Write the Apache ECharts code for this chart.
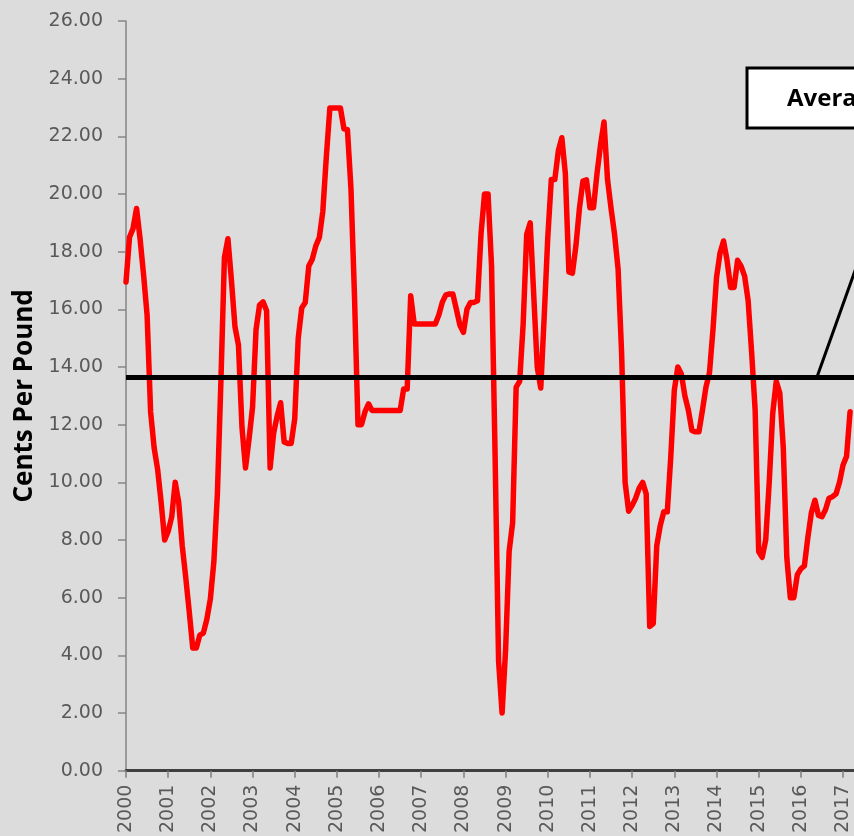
<!DOCTYPE html>
<html>
<head>
<meta charset="utf-8">
<script src="https://cdn.jsdelivr.net/npm/echarts@6/dist/echarts.min.js"></script>
<style>
html,body{margin:0;padding:0;background:#dcdcdc;}
#c{width:854px;height:836px;}
</style>
</head>
<body>
<div id="c"></div>
<script>
// Monthly price, cents per pound, starting January 2000
const startYear = 2000;
const monthlyPrice = [
  16.95, 18.5, 18.8, 19.5, 18.45, 17.2, 15.8, 12.45, 11.2, 10.45, 9.3, 8.0,
  8.3, 8.8, 10.0, 9.3, 7.8, 6.7, 5.5, 4.25, 4.25, 4.7, 4.77, 5.25,
  5.95, 7.25, 9.6, 13.5, 17.8, 18.45, 17.0, 15.4, 14.75, 11.9, 10.5, 11.5,
  12.6, 15.3, 16.15, 16.26, 15.95, 10.5, 11.7, 12.3, 12.76, 11.4, 11.35, 11.35,
  12.2, 15.0, 16.05, 16.24, 17.5, 17.74, 18.2, 18.49, 19.4, 21.3, 22.98, 22.98,
  22.98, 22.98, 22.26, 22.23, 20.2, 16.5, 12.0, 12.0, 12.45, 12.72, 12.49, 12.49,
  12.49, 12.49, 12.49, 12.49, 12.49, 12.49, 12.49, 13.24, 13.24, 16.47, 15.49, 15.49,
  15.49, 15.49, 15.49, 15.49, 15.49, 15.8, 16.25, 16.5, 16.53, 16.53, 16.0, 15.45,
  15.2, 16.0, 16.24, 16.24, 16.3, 18.6, 20.0, 20.0, 17.5, 11.0, 3.8, 2.0,
  4.2, 7.6, 8.6, 13.3, 13.5, 15.5, 18.6, 19.0, 16.5, 14.0, 13.27, 15.8,
  18.5, 20.5, 20.5, 21.5, 21.95, 20.7, 17.3, 17.25, 18.2, 19.5, 20.45, 20.49,
  19.52, 19.52, 20.7, 21.7, 22.5, 20.5, 19.5, 18.6, 17.4, 14.5, 10.0, 9.0,
  9.2, 9.45, 9.8, 10.0, 9.6, 5.0, 5.1, 7.8, 8.5, 8.98, 8.98, 10.9,
  13.2, 14.0, 13.76, 13.0, 12.5, 11.8, 11.75, 11.75, 12.5, 13.3, 13.8, 15.3,
  17.1, 17.95, 18.37, 17.7, 16.76, 16.76, 17.7, 17.5, 17.15, 16.3, 14.5, 12.5,
  7.6, 7.4, 8.0, 10.0, 12.4, 13.5, 13.1, 11.2, 7.4, 6.0, 6.0, 6.8,
  7.0, 7.1, 8.1, 8.95, 9.38, 8.85, 8.81, 9.05, 9.45, 9.5, 9.6, 10.0,
  10.6, 10.9, 12.45
];
const averagePrice = 13.66;
const annotationText = 'Average';
const yAxisTitle = 'Cents Per Pound';
const yMin = 0, yMax = 26, yStep = 2;
const xMin = 2000, xMax = 2017.26, xStep = 1;

const seriesData = monthlyPrice.map((v, i) => [startYear + i / 12, v]);

const chart = echarts.init(document.getElementById('c'), null, {renderer: 'canvas'});
const labelFont = '"DejaVu Sans", "Open Sans", sans-serif';
const titleFont = '"Open Sans", "DejaVu Sans", sans-serif';
chart.setOption({
  backgroundColor: '#dcdcdc',
  animation: false,
  grid: {left: 126, top: 21, right: 0, bottom: 63, containLabel: false},
  xAxis: {
    type: 'value',
    min: xMin, max: xMax, interval: xStep,
    axisLine: {show: true, lineStyle: {color: '#404040', width: 3}},
    axisTick: {show: true, length: 7, lineStyle: {color: '#7f7f7f', width: 1.5}},
    splitLine: {show: false},
    axisLabel: {
      rotate: 90, margin: 14, color: '#595959', fontSize: 19, fontFamily: labelFont,
      showMaxLabel: false,
      formatter: v => (Math.abs(v - Math.round(v)) < 1e-6 ? String(Math.round(v)) : '')
    }
  },
  yAxis: {
    type: 'value',
    min: yMin, max: yMax, interval: yStep,
    name: yAxisTitle, nameLocation: 'middle', nameGap: 86,
    nameTextStyle: {color: '#000', fontSize: 26, fontWeight: 'bold', fontFamily: titleFont},
    axisLine: {show: true, lineStyle: {color: '#868686', width: 1.5}},
    axisTick: {show: true, length: 8, lineStyle: {color: '#868686', width: 1.5}},
    splitLine: {show: false},
    axisLabel: {
      margin: 23, color: '#595959', fontSize: 19, fontFamily: labelFont,
      formatter: v => v.toFixed(2)
    }
  },
  series: [{
    type: 'line',
    data: seriesData,
    showSymbol: false,
    symbol: 'none',
    lineStyle: {color: '#ff0000', width: 5.5, join: 'round', cap: 'round'},
    markLine: {
      silent: true,
      symbol: 'none',
      label: {show: false},
      lineStyle: {color: '#000', width: 5, type: 'solid'},
      data: [{yAxis: averagePrice}]
    }
  }],
  graphic: [
    {
      type: 'line', z: 10,
      shape: {x1: 817, y1: 377, x2: 906, y2: 128},
      style: {stroke: '#000', lineWidth: 3}
    },
    {
      type: 'rect', z: 11,
      shape: {x: 747, y: 68, width: 240, height: 60},
      style: {fill: '#fff', stroke: '#000', lineWidth: 3}
    },
    {
      type: 'text', z: 12,
      x: 787, y: 99,
      style: {text: annotationText, font: 'bold 24px ' + titleFont, fill: '#000', verticalAlign: 'middle', align: 'left'}
    }
  ]
});
</script>
</body>
</html>
